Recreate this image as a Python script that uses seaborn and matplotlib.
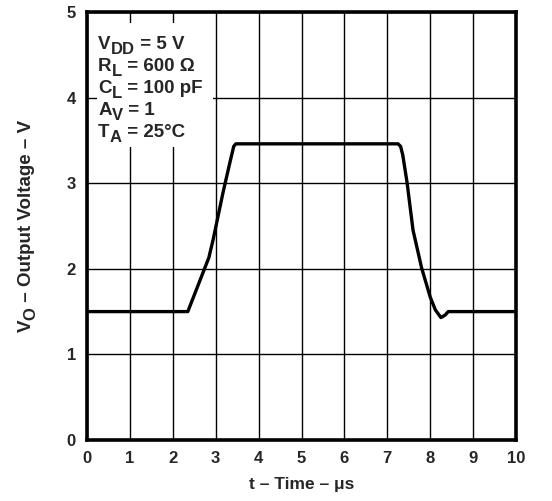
import numpy as np
import matplotlib
matplotlib.use("Agg")
import matplotlib.pyplot as plt
import pandas as pd
import seaborn as sns
from matplotlib.patches import Rectangle
from matplotlib.transforms import offset_copy

# output voltage vs time
time_us = [0, 2.35, 2.84, 2.94, 3.17, 3.33, 3.42, 3.47, 7.25, 7.31, 7.36, 7.46, 7.6, 7.8, 8.0, 8.12, 8.25, 8.35, 8.42, 10]
vout = [1.5, 1.5, 2.13, 2.34, 2.89, 3.24, 3.43, 3.46, 3.46, 3.43, 3.33, 3.01, 2.45, 2.01, 1.67, 1.52, 1.43, 1.46, 1.5, 1.5]
x_ticks = list(range(0, 11))
y_ticks = list(range(0, 6))
# (symbol, subscript, rest)
conditions = [("V", "DD", " = 5 V"), ("R", "L", " = 600 Ω"), ("C", "L", " = 100 pF"),
              ("A", "V", " = 1"), ("T", "A", " = 25°C")]

sns.set_style("white")
plt.rcParams["font.family"] = ["Liberation Sans", "DejaVu Sans"]
plt.rcParams["font.weight"] = "bold"

df = pd.DataFrame({"t": time_us, "v": vout})

fig = plt.figure(figsize=(5.52, 5.01), dpi=100)
ax = fig.add_axes([0.1576, 0.1218, 0.7772, 0.8542])

ax.set_xlim(0, 10)
ax.set_ylim(0, 5)
ax.set_xticks(x_ticks)
ax.set_yticks(y_ticks)
ax.grid(True, color="black", linewidth=1.0, zorder=0)
ax.set_axisbelow(True)

# white panel behind the conditions text
ax.add_patch(Rectangle((0.024, 0.685), 0.27, 0.29, transform=ax.transAxes,
                       facecolor="white", edgecolor="none", zorder=1.5))

sns.lineplot(data=df, x="t", y="v", estimator=None, sort=False, color="black",
             linewidth=2.4, ax=ax, zorder=3)
ax.lines[-1].set_solid_joinstyle("round")

for sp in ax.spines.values():
    sp.set_linewidth(2.6)
    sp.set_color("black")

ax.tick_params(length=0, labelsize=12, pad=8)
for lab in ax.get_xticklabels() + ax.get_yticklabels():
    lab.set_fontweight("bold")

ax.set_xlabel("t – Time – μs", fontsize=12.5, fontweight="bold", labelpad=8)
ax.set_ylabel("")

renderer = fig.canvas.get_renderer()


def piece_text(x, y, parts, transform, rotation=0, zorder=4):
    # parts: list of (text, fontsize, baseline shift in points)
    dx = 0.0
    for s, fs, dy in parts:
        if rotation == 90:
            tr = offset_copy(transform, fig=fig, x=-dy, y=dx, units="points")
        else:
            tr = offset_copy(transform, fig=fig, x=dx, y=dy, units="points")
        t = fig.text(x, y, s, transform=tr, fontsize=fs, fontweight="bold",
                     va="baseline", ha="left", rotation=rotation,
                     rotation_mode="anchor", zorder=zorder)
        bb = t.get_window_extent(renderer)
        w = bb.height if rotation == 90 else bb.width
        dx += w * 72.0 / fig.dpi


fs_main = 13.5
fs_sub = 12
for i, (sym, sub, rest) in enumerate(conditions):
    piece_text(0.026, 0.914 - i * 0.0515,
               [(sym, fs_main, 0), (sub, fs_sub, -3.5), (rest, fs_main, 0)],
               ax.transAxes)

# y axis label built from pieces so the subscript keeps a large size
ylab_parts = [("V", 13.5, 0), ("O", 12, -3.5), (" – Output Voltage – V", 13.5, 0)]
total = 0.0
for s, fs, dy in ylab_parts:
    t = fig.text(0, 0, s, fontsize=fs, fontweight="bold")
    total += t.get_window_extent(renderer).width
    t.remove()
y_center_px = (0.1218 + 0.8542 / 2) * fig.bbox.height
y0 = (y_center_px - total / 2) / fig.bbox.height
piece_text(0.056, y0, ylab_parts, fig.transFigure, rotation=90)

fig.savefig("out.png", dpi=100)
